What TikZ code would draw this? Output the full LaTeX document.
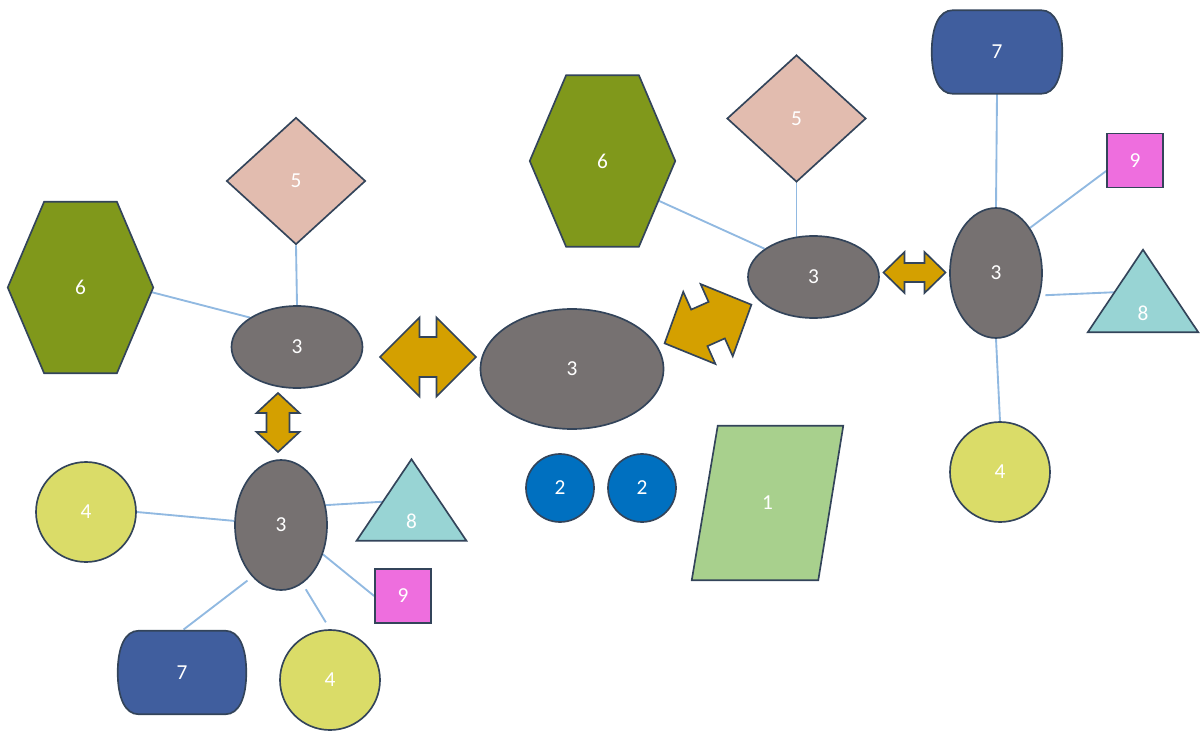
\documentclass[tikz,border=0pt]{standalone}
\usepackage{fontspec}
\setmainfont{Carlito}
\usetikzlibrary{shapes.geometric,calc,backgrounds}
\definecolor{outl}{HTML}{33445A}
\definecolor{gray3}{HTML}{767171}
\definecolor{goldA}{HTML}{D4A000}
\definecolor{olive6}{HTML}{80981B}
\definecolor{rose5}{HTML}{E2BCAF}
\definecolor{navy7}{HTML}{405E9E}
\definecolor{blue2}{HTML}{0070C0}
\definecolor{yel4}{HTML}{DADC68}
\definecolor{teal8}{HTML}{98D4D4}
\definecolor{pink9}{HTML}{EE6EDE}
\definecolor{green1}{HTML}{A8D08D}
\definecolor{linec}{HTML}{91B9E1}
% double block arrow: cx, cy, angle, length, head width, body width, head length
\newcommand{\blkarrow}[7]{%
\begin{scope}[shift={(#1,#2)},rotate=#3]
\draw[arr] ({-#4/2},0) -- ({-#4/2+#7},{#5/2}) -- ({-#4/2+#7},{#6/2}) -- ({#4/2-#7},{#6/2}) -- ({#4/2-#7},{#5/2}) -- ({#4/2},0) -- ({#4/2-#7},{-#5/2}) -- ({#4/2-#7},{-#6/2}) -- ({-#4/2+#7},{-#6/2}) -- ({-#4/2+#7},{-#5/2}) -- cycle;
\end{scope}}
\newcommand{\hexshape}[1]{%
\draw[poly,fill=olive6] (#1.west) -- ($(#1.north west)!0.25!(#1.north east)$) -- ($(#1.north west)!0.75!(#1.north east)$) -- (#1.east) -- ($(#1.south west)!0.75!(#1.south east)$) -- ($(#1.south west)!0.25!(#1.south east)$) -- cycle;}
\newcommand{\trishape}[1]{%
\draw[poly,fill=teal8] (#1.south west) -- (#1.north) -- (#1.south east) -- cycle;}
\newcommand{\stadshape}[1]{%
\draw[poly,fill=navy7] ($(#1.north west)+(21,0)$) -- ($(#1.north east)+(-21,0)$)
 .. controls ($(#1.north east)+(-7,0)$) and ($(#1.north east)+(0,17)$) .. (#1.east)
 .. controls ($(#1.south east)+(0,-17)$) and ($(#1.south east)+(-7,0)$) .. ($(#1.south east)+(-21,0)$)
 -- ($(#1.south west)+(21,0)$)
 .. controls ($(#1.south west)+(7,0)$) and ($(#1.south west)+(0,-17)$) .. (#1.west)
 .. controls ($(#1.north west)+(0,17)$) and ($(#1.north west)+(7,0)$) .. ($(#1.north west)+(21,0)$) -- cycle;}
\begin{document}
\begin{tikzpicture}[x=0.75pt,y=-0.75pt,
  lbl/.style={text=white,font=\fontsize{16}{19}\selectfont},
  shp/.style={draw=outl,line width=1.25pt,inner sep=0pt,lbl},
  ell/.style={shp,ellipse,fill=gray3},
  dia/.style={shp,diamond,fill=rose5,minimum width=104.25pt,minimum height=95.25pt},
  frame/.style={inner sep=0pt,draw=none,rectangle},
  hexbox/.style={frame,minimum width=108.75pt,minimum height=128.25pt},
  tribox/.style={frame,minimum width=82pt,minimum height=60.75pt},
  stadbox/.style={frame,minimum width=96pt,minimum height=62.25pt},
  poly/.style={draw=outl,line width=1.25pt,line join=miter},
  cfour/.style={shp,circle,fill=yel4,minimum size=75pt},
  ctwo/.style={shp,circle,fill=blue2,minimum size=51pt},
  sqr/.style={shp,rectangle,fill=pink9,minimum width=42pt,minimum height=40.5pt},
  conn/.style={draw=linec,line width=1.4pt},
  arr/.style={draw=outl,fill=goldA,line width=1.25pt,line join=miter}]
\useasboundingbox (0,0) rectangle (1203,731);

% ---- left cluster
\node[hexbox] (h6L) at (80.5,287.5) {};
\hexshape{h6L}
\node[lbl] at (h6L) {6};
\node[dia] (d5L) at (296,181) {5};
\node[ell,minimum width=98.25pt,minimum height=61.5pt] (A) at (297,347) {3};
\node[ell,minimum width=69pt,minimum height=97.5pt] (B) at (281,525) {3};
\node[cfour] (c4L) at (86,512) {4};
\node[tribox] (t8L) at (411.5,500) {};
\trishape{t8L}
\node[lbl] at ($(t8L.south)+(0,-19)$) {8};
\node[sqr] (q9L) at (403,596) {9};
\node[stadbox] (s7L) at (182,672.5) {};
\stadshape{s7L}
\node[lbl] at (s7L) {7};
\node[cfour] (c4B) at (330,680) {4};

% ---- centre
\node[ell,minimum width=137.25pt,minimum height=90pt] (C) at (572,369) {3};
\node[ctwo] (c2a) at (560,488) {2};
\node[ctwo] (c2b) at (642,488) {2};
\node[frame,minimum width=113.25pt,minimum height=115.5pt] (p1) at (767.5,503) {};
\draw[poly,fill=green1] ($(p1.north west)+(26,0)$) -- (p1.north east) -- ($(p1.south east)+(-25,0)$) -- (p1.south west) -- cycle;
\node[lbl] at (p1) {1};

% ---- right cluster
\node[hexbox] (h6R) at (602.5,161) {};
\hexshape{h6R}
\node[lbl] at (h6R) {6};
\node[dia] (d5R) at (796.5,118.5) {5};
\node[ell,minimum width=98.25pt,minimum height=61.5pt] (D) at (813.5,277) {3};
\node[ell,minimum width=69pt,minimum height=97.5pt] (E) at (996,273) {3};
\node[stadbox,minimum width=97.5pt] (s7R) at (997,52) {};
\stadshape{s7R}
\node[lbl] at (s7R) {7};
\node[sqr] (q9R) at (1135,160.5) {9};
\node[tribox,minimum width=82.5pt,minimum height=61.5pt] (t8R) at (1143,291) {};
\trishape{t8R}
\node[lbl] at ($(t8R.south)+(0,-19)$) {8};
\node[cfour] (c4R) at (1000,472) {4};

% ---- block arrows
\blkarrow{428}{357}{0}{96}{79}{40}{39.5}
\blkarrow{278}{422.5}{90}{59}{43}{23}{20}
\blkarrow{708}{324}{24}{95}{79}{40}{38}
\blkarrow{914.5}{272.5}{0}{62}{41}{19}{21}

% ---- connectors
\begin{scope}[on background layer]
\draw[conn] (A.148) -- ($(A.148)!1.1!(h6L.-4)$);
\draw[conn] (A.north) -- (d5L.south);
\draw[conn] (B.175) -- (c4L.east);
\draw[conn] (B.24) -- (t8L.center);
\draw[conn] (B.-35) -- (q9L.west);
\draw[conn,shorten <=5pt,shorten >=6pt] (B.-70) -- (c4B.north);
\draw[conn,shorten <=4.5pt,shorten >=1.5pt] (B.-119) -- (s7L.north);
\draw[conn] (D.150) -- ($(D.150)!1.4!(h6R.-33.5)$);
\draw[conn] (d5R.south) -- (d5R.south |- D.center);
\draw[conn] (s7R.south) -- (E.north);
\draw[conn] (E.53) -- (q9R.200);
\draw[conn,shorten <=4pt] (E.-27) -- (t8R.center);
\draw[conn] (E.south) -- (c4R.north);
\end{scope}
\end{tikzpicture}
\end{document}
